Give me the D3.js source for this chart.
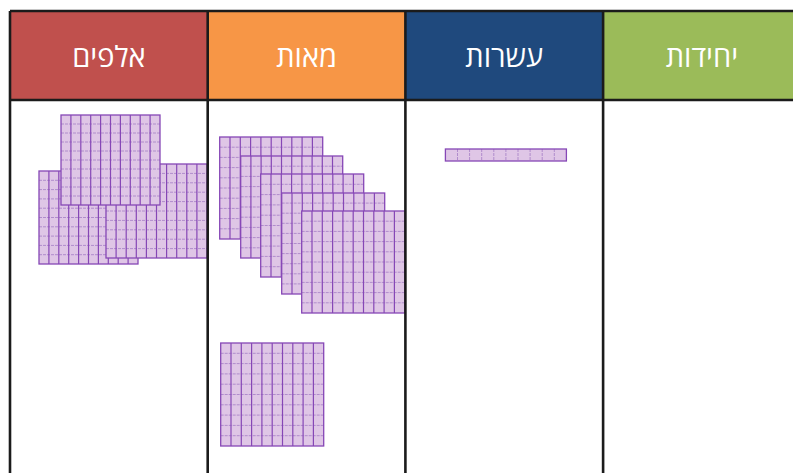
<!DOCTYPE html>
<html>
<head>
<meta charset="utf-8">
<script src="https://cdn.jsdelivr.net/npm/d3@7"></script>
<style>
  body { margin: 0; background: #fff; }
  svg { display: block; }
</style>
</head>
<body>
<div id="chart"></div>
<script>
// place value columns (right to left reading, drawn left to right)
const categories = ["אלפים", "מאות", "עשרות", "יחידות"];
const headerColors = ["#c0504d", "#f79646", "#1f497d", "#9bbb59"];
// how many blocks in each column (3 thousands, 6 hundreds, 1 ten, 0 units)
const blockCounts = [3, 6, 1, 0];
// kind of block per column: flat 10x10 square or 1x10 rod
const blockKinds = ["square", "square", "rod", "none"];

const width = 793, height = 473;
const margin = {top: 11, left: 10};
const headerH = 89;

const svg = d3.select("#chart").append("svg")
    .attr("width", width)
    .attr("height", height);

const x = d3.scaleBand()
    .domain(categories)
    .range([margin.left, margin.left + 4 * 197.7]);

// block placement inside each column, offsets from the column's left edge
// [dx, y, w, h] -- just layout, counts come from blockCounts
const layout = {
    "אלפים": [[29, 171, 99, 93], [96, 164, 101, 94], [51, 115, 99, 90]],
    "מאות": [[12, 137, 103, 102], [33, 156, 102, 102], [53, 174, 103, 103],
             [74, 193, 103, 101], [94, 211, 103, 102], [13, 343, 103, 103]],
    "עשרות": [[40, 149, 121, 12]],
    "יחידות": []
};

const fill = "#dfc6e6", edge = "#8647b6", inner = "#b08ccc";

// headers
const head = svg.append("g");
head.selectAll("rect")
    .data(categories)
    .enter().append("rect")
    .attr("x", d => x(d))
    .attr("y", margin.top)
    .attr("width", x.bandwidth())
    .attr("height", headerH)
    .attr("fill", (d, i) => headerColors[i]);

head.selectAll("text")
    .data(categories)
    .enter().append("text")
    .attr("x", d => x(d) + x.bandwidth() / 2)
    .attr("y", margin.top + headerH / 2 + 11)
    .attr("text-anchor", "middle")
    .attr("fill", "#fff")
    .attr("font-family", "'Open Sans', 'Noto Sans', sans-serif")
    .attr("font-size", 29)
    .text(d => d);

// blocks
const blocks = svg.append("g");
categories.forEach((cat, ci) => {
    const n = blockCounts[ci];
    const kind = blockKinds[ci];
    layout[cat].slice(0, n).forEach(b => {
        const bx = x(cat) + b[0], by = b[1], bw = b[2], bh = b[3];
        const g = blocks.append("g");
        const cx = d3.scaleLinear().domain([0, 10]).range([bx, bx + bw]);
        const cy = d3.scaleLinear().domain([0, 10]).range([by, by + bh]);
        g.append("rect")
            .attr("x", bx).attr("y", by)
            .attr("width", bw).attr("height", bh)
            .attr("fill", fill);
        if (kind === "square") {
            // horizontal dashed lines, lighter
            g.selectAll(".h").data(d3.range(1, 10)).enter().append("line")
                .attr("x1", bx).attr("x2", bx + bw)
                .attr("y1", d => cy(d)).attr("y2", d => cy(d))
                .attr("stroke", inner).attr("stroke-width", 1)
                .attr("stroke-dasharray", "3,1");
            // vertical solid lines
            g.selectAll(".v").data(d3.range(1, 10)).enter().append("line")
                .attr("x1", d => cx(d)).attr("x2", d => cx(d))
                .attr("y1", by).attr("y2", by + bh)
                .attr("stroke", edge).attr("stroke-width", 1.2);
        } else if (kind === "rod") {
            g.selectAll(".v").data(d3.range(1, 10)).enter().append("line")
                .attr("x1", d => cx(d)).attr("x2", d => cx(d))
                .attr("y1", by).attr("y2", by + bh)
                .attr("stroke", inner).attr("stroke-width", 1)
                .attr("stroke-dasharray", "3,1");
        }
        g.append("rect")
            .attr("x", bx).attr("y", by)
            .attr("width", bw).attr("height", bh)
            .attr("fill", "none")
            .attr("stroke", edge).attr("stroke-width", 1.3);
    });
});

// table lines on top
const lines = svg.append("g")
    .attr("stroke", "#1b1b1b")
    .attr("stroke-width", 2.6);
categories.forEach(cat => {
    lines.append("line")
        .attr("x1", x(cat)).attr("x2", x(cat))
        .attr("y1", margin.top).attr("y2", height + 5);
});
lines.append("line")
    .attr("x1", margin.left).attr("x2", width + 10)
    .attr("y1", margin.top).attr("y2", margin.top);
lines.append("line")
    .attr("x1", margin.left).attr("x2", width + 10)
    .attr("y1", margin.top + headerH).attr("y2", margin.top + headerH);
</script>
</body>
</html>
